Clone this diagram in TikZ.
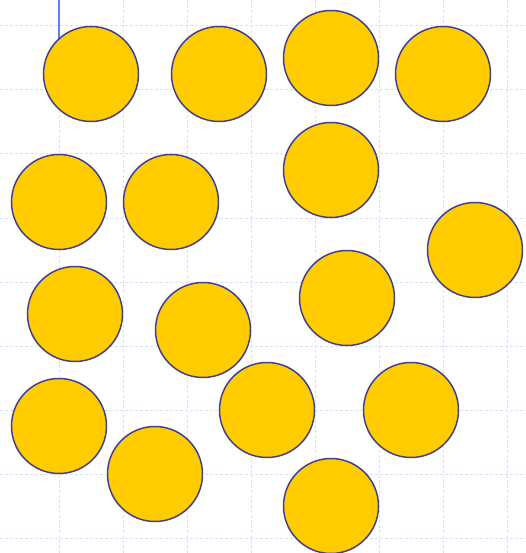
\documentclass[tikz,border=0pt]{standalone}
\begin{document}
\begin{tikzpicture}[x=1pt,y=-1pt,
  gridline/.style={draw=gridc,line width=1pt,dash pattern=on 3pt off 2pt},
  ball/.style={circle,draw=ballline,fill=ballfill,line width=1.5pt,minimum size=95pt,inner sep=0pt}]
\definecolor{gridc}{RGB}{218,224,250}
\definecolor{ballline}{RGB}{66,66,140}
\definecolor{ballfill}{RGB}{255,204,0}
\definecolor{axisc}{RGB}{100,125,250}
\useasboundingbox (0,0) rectangle (526,553);
\foreach \x in {59,123,187,251,315,379,443,507} \draw[gridline] (\x,0) -- (\x,553);
\foreach \y in {26,90,154,218,282,346,410,474,538} \draw[gridline] (0,\y) -- (526,\y);
\coordinate (axtop) at (59,0);
\coordinate (axend) at (59,60);
\draw[axisc,line width=1.2pt] (axtop) -- (axend);
\node[ball] (b1) at (91,74) {};
\node[ball] (b2) at (219,74) {};
\node[ball] (b3) at (331,58) {};
\node[ball] (b4) at (443,74) {};
\node[ball] (b5) at (59,202) {};
\node[ball] (b6) at (171,202) {};
\node[ball] (b7) at (331,170) {};
\node[ball] (b8) at (475,250) {};
\node[ball] (b9) at (75,314) {};
\node[ball] (b10) at (203,330) {};
\node[ball] (b11) at (347,298) {};
\node[ball] (b12) at (59,426) {};
\node[ball] (b13) at (155,474) {};
\node[ball] (b14) at (267,410) {};
\node[ball] (b15) at (411,410) {};
\node[ball] (b16) at (331,506) {};
\end{tikzpicture}
\end{document}
